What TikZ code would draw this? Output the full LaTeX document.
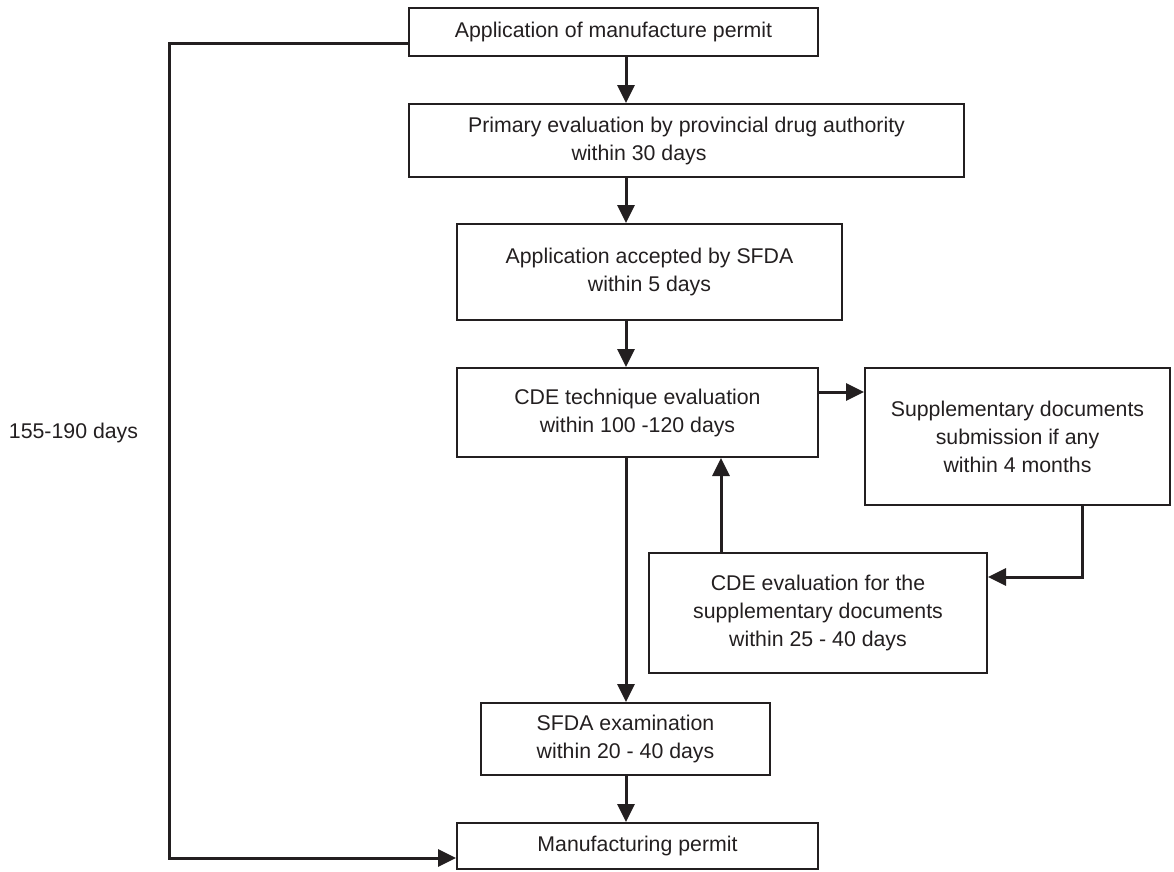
\documentclass[tikz,border=0pt]{standalone}
\usepackage{fontspec}
\setmainfont{Liberation Sans}
\usetikzlibrary{arrows.meta,calc}
\definecolor{ink}{RGB}{35,31,32}

\begin{document}
\begin{tikzpicture}[x=1pt,y=-1pt,
                    main node/.style={draw=ink,line width=2pt,align=center,inner sep=0pt,
                                      text=ink,font=\fontsize{21.3}{28}\selectfont},
                    flow/.style={color=ink,line width=3pt,-{Triangle[length=18pt,width=17pt]}}
                   ]
  \useasboundingbox (0,0) rectangle (1174,871);
  \node[main node,minimum width=409pt,minimum height=48pt] (1) at (613.5,32) {Application of manufacture permit};
  \node[main node,minimum width=555pt,minimum height=73pt] (2) at (686.5,140.5) {Primary evaluation by provincial drug authority\\within 30 days\hspace*{95pt}};
  \node[main node,minimum width=385pt,minimum height=96pt] (3) at (649.5,272) {Application accepted by SFDA\\within 5 days};
  \node[main node,minimum width=361pt,minimum height=89pt] (4) at (637.5,412.5) {CDE technique evaluation\\within 100 -120 days};
  \node[main node,minimum width=305pt,minimum height=137pt] (5) at (1017.5,436.5) {Supplementary documents\\submission if any\\within 4 months};
  \node[main node,minimum width=338pt,minimum height=120pt] (6) at (818,613) {CDE evaluation for the\\supplementary documents\\within 25 - 40 days};
  \node[main node,minimum width=289pt,minimum height=72pt] (7) at (625.5,739) {SFDA examination\\within 20 - 40 days};
  \node[main node,minimum width=361pt,minimum height=46pt] (8) at (637.5,846) {Manufacturing permit};
  \node[text=ink,font=\fontsize{21.3}{28}\selectfont] (D) at (73.5,433) {155-190 days};
  % bend points of the connectors
  \coordinate (s) at (626,0);
  \coordinate (u) at (721,0);
  \coordinate (r) at (0,392);
  \coordinate (b) at (1082,577);
  \coordinate (lt) at (169,43);
  \coordinate (lb) at (169,858);
  \path[flow]%
    (1.south -| s) edge (2.north -| s)
    (2.south -| s) edge (3.north -| s)
    (3.south -| s) edge (4.north -| s)
    (4.south -| s) edge (7.north -| s)
    (7.south -| s) edge (8.north -| s)
    (4.east |- r) edge (5.west |- r)
    (6.north -| u) edge (4.south -| u);
  \draw[flow] (5.south -| b) -- (b) -- (6.east |- b);
  \draw[flow] (1.west |- lt) -- (lt) -- (lb) -- (8.west |- lb);
\end{tikzpicture}
\end{document}
